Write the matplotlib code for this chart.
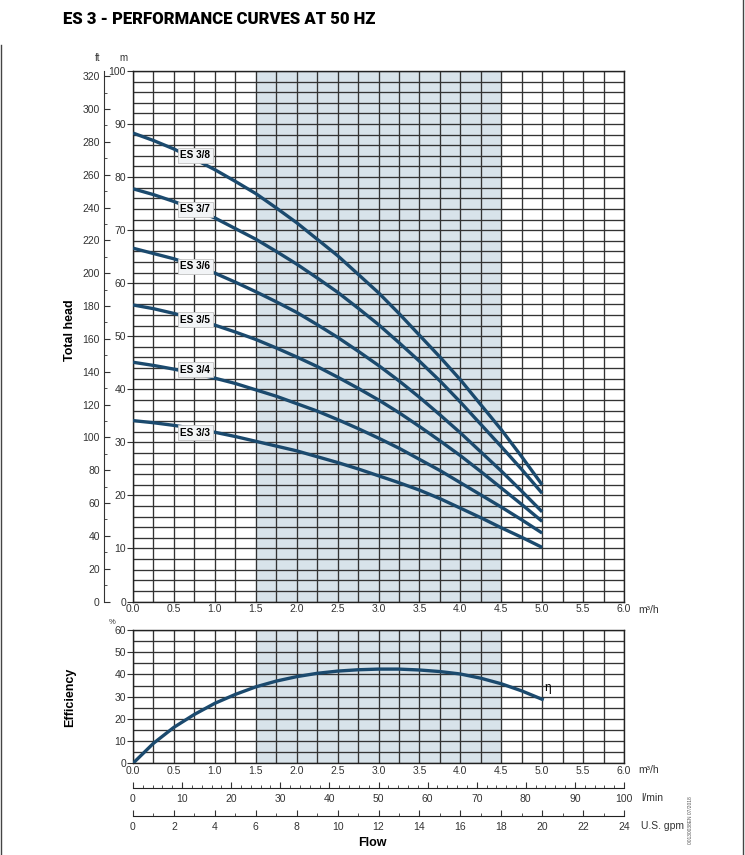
import numpy as np
import matplotlib.pyplot as plt
from matplotlib.ticker import MultipleLocator
from matplotlib.lines import Line2D

# Données (débit en m3/h, hauteur en m)
debit = [0.0, 0.25, 0.5, 0.75, 1.0, 1.25, 1.5, 1.75, 2.0, 2.25, 2.5,
         2.75, 3.0, 3.25, 3.5, 3.75, 4.0, 4.25, 4.5, 4.75, 5.0]
h_es38 = [88.3, 86.9, 85.3, 83.4, 81.4, 79.2, 76.9, 74.2, 71.4, 68.3, 65.2,
          61.7, 58.2, 54.3, 50.2, 46.1, 41.8, 37.1, 32.4, 27.3, 22.0]
h_es37 = [77.8, 76.7, 75.4, 73.9, 72.3, 70.3, 68.3, 66.0, 63.6, 61.0, 58.3,
          55.3, 52.2, 48.8, 45.3, 41.6, 37.6, 33.4, 29.2, 24.9, 20.4]
h_es36 = [66.6, 65.6, 64.6, 63.3, 61.9, 60.2, 58.4, 56.5, 54.5, 52.2, 49.8,
          47.2, 44.5, 41.6, 38.5, 35.2, 31.8, 28.2, 24.6, 20.8, 16.9]
h_es35 = [55.9, 55.2, 54.3, 53.3, 52.1, 50.8, 49.4, 47.8, 46.1, 44.3, 42.3,
          40.2, 38.0, 35.6, 33.0, 30.3, 27.5, 24.5, 21.4, 18.3, 15.1]
h_es34 = [45.1, 44.5, 43.8, 43.0, 42.1, 41.1, 39.9, 38.7, 37.3, 35.9, 34.3,
          32.6, 30.8, 28.9, 26.8, 24.7, 22.4, 20.1, 17.8, 15.4, 12.9]
h_es33 = [34.1, 33.7, 33.2, 32.6, 31.9, 31.1, 30.2, 29.3, 28.4, 27.3, 26.2,
          25.0, 23.7, 22.4, 21.0, 19.4, 17.6, 15.8, 13.9, 12.1, 10.2]

modeles = ["ES 3/8", "ES 3/7", "ES 3/6", "ES 3/5", "ES 3/4", "ES 3/3"]
hauteurs = [h_es38, h_es37, h_es36, h_es35, h_es34, h_es33]
pos_etiquettes = [84.1, 73.9, 63.2, 53.1, 43.7, 31.8]

debit_rend = debit
rendement = [0, 9.0, 16.2, 22.0, 27.0, 31.0, 34.4, 37.0, 39.0, 40.5, 41.5,
             42.1, 42.4, 42.4, 42.0, 41.3, 40.2, 38.3, 35.8, 32.6, 28.8]

bleu = '#1b4a6e'
gris_grille = '#333333'
zone = '#d8e3ea'
texte = '#333333'
plt.rcParams['font.family'] = ['Liberation Sans', 'DejaVu Sans']

W, H = 745, 855
fig = plt.figure(figsize=(W / 100, H / 100), dpi=100)

def fx(px):
    return px / W

def fy(py):
    return 1 - py / H

gauche, droite = fx(133), fx(624)
largeur = droite - gauche


def preparer(ax, ymax, ymaj, ymin):
    ax.set_xlim(0, 6)
    ax.set_ylim(0, ymax)
    ax.axvspan(1.5, 4.5, color=zone, zorder=0)
    ax.xaxis.set_major_locator(MultipleLocator(0.5))
    ax.xaxis.set_minor_locator(MultipleLocator(0.25))
    ax.yaxis.set_major_locator(MultipleLocator(ymaj))
    ax.yaxis.set_minor_locator(MultipleLocator(ymin))
    ax.grid(which='both', color=gris_grille, lw=0.95)
    ax.set_axisbelow(True)
    ax.set_xticks(np.arange(0, 6.01, 0.5))
    ax.set_xticklabels([f"{v:.1f}" for v in np.arange(0, 6.01, 0.5)])
    ax.tick_params(which='major', axis='y', length=4, direction='out', pad=1, labelsize=7.5, colors=texte)
    ax.tick_params(which='minor', axis='y', length=0)
    ax.tick_params(which='both', axis='x', length=0, pad=2, labelsize=7.5, colors=texte)
    for s in ax.spines.values():
        s.set_color('#222222')
        s.set_linewidth(1.0)


# Graphique principal : hauteur totale
ax = fig.add_axes([gauche, fy(601.5), largeur, fy(71) - fy(601.5)])
preparer(ax, 100, 10, 2)
for nom, h, ye in zip(modeles, hauteurs, pos_etiquettes):
    ax.plot(debit, h, color=bleu, lw=2.4, solid_capstyle='butt', zorder=3)
    ax.text(0.76, ye, nom, fontsize=7.2, fontweight='bold', ha='center', va='center', zorder=4,
            bbox=dict(boxstyle='square,pad=0.25', facecolor='#f2f4f6', edgecolor='#c4c4c4', lw=0.6))

# Axe en pieds
ax_ft = fig.add_axes([fx(104), fy(601.5), 0.0001, fy(71) - fy(601.5)])
ax_ft.set_ylim(0, 323.2)
ax_ft.set_xticks([])
for cote in ['top', 'right', 'bottom']:
    ax_ft.spines[cote].set_visible(False)
ax_ft.spines['left'].set_color(texte)
ax_ft.yaxis.set_major_locator(MultipleLocator(20))
ax_ft.yaxis.set_minor_locator(MultipleLocator(10))
ax_ft.tick_params(which='major', direction='in', length=4, pad=3, labelsize=7.5, colors=texte)
ax_ft.tick_params(which='minor', direction='in', length=2, colors=texte)

fig.text(fx(98), fy(58), "ft", fontsize=7, ha='center', va='center', color=texte)
fig.text(fx(123), fy(58), "m", fontsize=7, ha='center', va='center', color=texte)
fig.text(fx(638), fy(610), "m³/h", fontsize=7.5, ha='left', va='center', color=texte)

# Rendement
ax2 = fig.add_axes([gauche, fy(763.3), largeur, fy(630) - fy(763.3)])
preparer(ax2, 60, 10, 5)
ax2.plot(debit_rend, rendement, color=bleu, lw=2.4, zorder=3)
ax2.text(5.03, 31.0, "η", fontsize=8.5, ha='left', va='bottom')
fig.text(fx(112), fy(622), "%", fontsize=5.5, ha='center', va='center', color=texte)
fig.text(fx(638), fy(770), "m³/h", fontsize=7.5, ha='left', va='center', color=texte)

# Échelles secondaires de débit
def echelle(py, vmax, maj, mini, unite):
    a = fig.add_axes([gauche, fy(py), largeur, 0.0001])
    a.set_xlim(0, vmax)
    a.set_yticks([])
    for cote in ['top', 'right', 'left']:
        a.spines[cote].set_visible(False)
    a.spines['bottom'].set_color('#222222')
    a.xaxis.set_major_locator(MultipleLocator(maj))
    a.xaxis.set_minor_locator(MultipleLocator(mini))
    a.tick_params(which='major', direction='in', length=4, pad=4, labelsize=7.5, colors=texte)
    a.tick_params(which='minor', direction='in', length=2, colors=texte)
    fig.text(fx(641), fy(py + 10), unite, fontsize=7.5, ha='left', va='center', color=texte)

echelle(788, 100, 10, 2, "l/min")
echelle(816, 24, 2, 1, "U.S. gpm")

# Titres et libellés
fig.text(fx(63), fy(19), "ES 3 - PERFORMANCE CURVES AT 50 HZ", fontsize=12, fontweight='heavy',
         family=['Roboto', 'DejaVu Sans'], ha='left', va='center')
fig.text(fx(70), fy(330), "Total head", fontsize=9, fontweight='bold', rotation=90, ha='center', va='center')
fig.text(fx(70), fy(697), "Efficiency", fontsize=9, fontweight='bold', rotation=90, ha='center', va='center')
fig.text(fx(372), fy(843), "Flow", fontsize=9, fontweight='bold', ha='center', va='center')
fig.text(fx(690), fy(820), "00130038EN 07/2018", fontsize=3.5, rotation=90, ha='center', va='center',
         color='#555555')

# Cadre de la page
fig.add_artist(Line2D([fx(1), fx(1)], [fy(45), 0], color='#444444', lw=1))
fig.add_artist(Line2D([fx(743), fx(743)], [1, 0], color='#444444', lw=1))

fig.savefig("out.png", dpi=100)
